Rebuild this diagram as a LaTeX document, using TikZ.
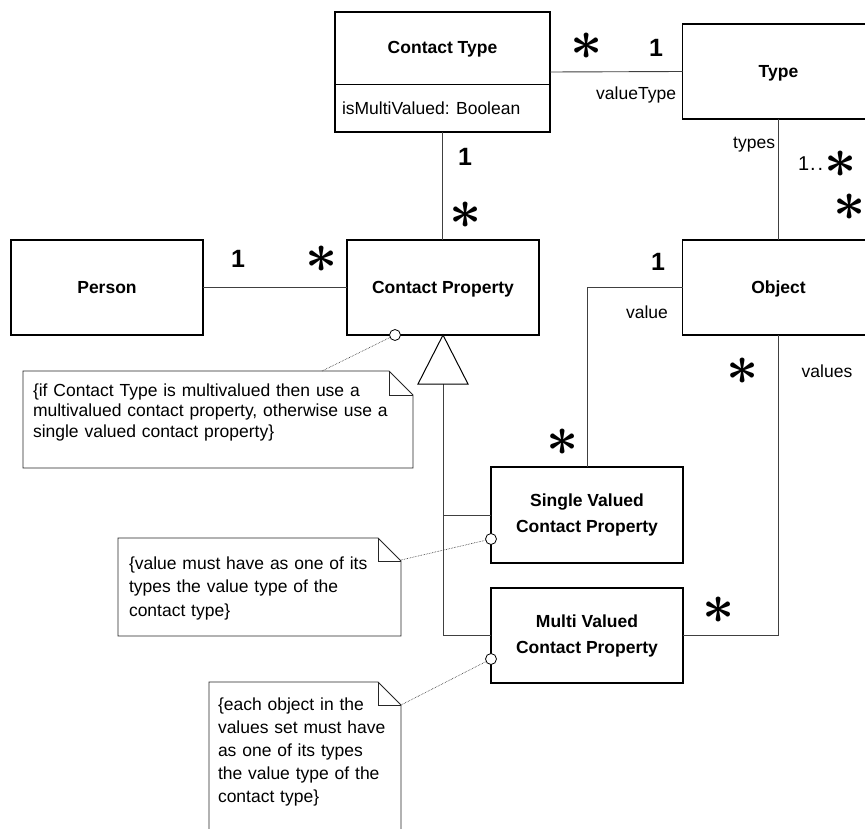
\documentclass[tikz,border=0pt]{standalone}
\usepackage{fontspec}
\setmainfont{Liberation Sans}
\usepackage{graphicx}
% large six-armed multiplicity asterisk, independent of the surrounding size
\newcommand\mult{\scalebox{5.6}{\fontsize{10}{12}\selectfont\boldmath$\ast$}}
\begin{document}
\begin{tikzpicture}[x=1pt,y=-1pt,
  every node/.style={inner sep=0pt,outer sep=0pt},
  classbox/.style={draw=black,line width=1.2pt,minimum width=192pt,minimum height=95pt,
    font=\bfseries\fontsize{17.5}{26}\selectfont,align=center},
  assoc/.style={draw=black!75,line width=0.9pt},
  gen/.style={draw=black,line width=1pt,fill=white},
  lbl/.style={font=\fontsize{17.5}{21}\selectfont},
  one/.style={font=\bfseries\fontsize{25}{25}\selectfont,anchor=base},
  notebox/.style={draw=black!85,line width=0.9pt},
  noteline/.style={draw=black!85,line width=0.6pt,densely dotted},
  anchorring/.style={circle,draw=black,line width=0.8pt,fill=white,minimum size=11pt},
]
\clip (0,0) rectangle (865,829);
\fill[white] (0,0) rectangle (865,829);

% ---------- classes ----------
\node[classbox,minimum width=215pt,minimum height=120pt] (ct) at (442.5,72) {};
\node[font=\bfseries\fontsize{17.5}{21}\selectfont,anchor=base] (ctname) at (442.5,54) {Contact Type};
\coordinate (ctdiv) at (0,84.5);
\draw[line width=1.2pt] (ct.west |- ctdiv) -- (ct.east |- ctdiv);
\node[lbl,anchor=base west] (ctattr) at (342,115) {isMultiValued: Boolean};

\node[classbox,text height=12.7pt,text depth=0pt] (type) at (778.5,71.5) {Type};
\node[classbox,text height=12.7pt,text depth=0pt] (person) at (107,287.5) {Person};
\node[classbox,text height=12.7pt,text depth=0pt] (cp) at (443,287.5) {Contact Property};
\node[classbox,text height=12.7pt,text depth=0pt] (obj) at (778.5,287.5) {Object};
\node[classbox,minimum height=96pt] (sv) at (587,515) {Single Valued\\Contact Property};
\node[classbox] (mv) at (587,635.5) {Multi Valued\\Contact Property};

% ---------- associations ----------
\draw[assoc] (ct.east) -- (type.west);
\draw[assoc] (ct.south) -- (ct.south |- cp.north);
\draw[assoc] (type.south) -- (obj.north);
\draw[assoc] (person.east) -- (cp.west);
\draw[assoc] (obj.west) -| (sv.north);
\draw[assoc] (obj.south) |- (mv.east);

% ---------- generalization ----------
\coordinate (gtip) at (cp.south);
\coordinate (gbase) at ([yshift=-49pt]gtip);
\draw[assoc] (gbase) |- (mv.west);
\draw[assoc] (gbase |- sv.west) -- (sv.west);
\draw[gen] (gtip) -- ([xshift=-25pt]gbase) -- ([xshift=25pt]gbase) -- cycle;

% ---------- multiplicities and role names ----------
\node (m1) at (586.5,46) {\mult};
\node[one] (m2) at (656,57) {1};
\node[lbl,anchor=base east] (rvt) at (676,100) {valueType};
\node[one] (m3) at (465,166) {1};
\node (m4) at (466,215) {\mult};
\node[lbl,anchor=base east] (rtypes) at (775,149) {types};
\node[anchor=base west,font=\fontsize{20}{20}\selectfont] (m5) at (798,171)
  {1\hspace{1pt}.\hspace{2pt}.\hspace{1pt}\raisebox{-7pt}{\mult}};
\node (m6) at (850,207) {\mult};
\node[one] (m7) at (238,268) {1};
\node (m8) at (322,259) {\mult};
\node[one] (m9) at (658,271) {1};
\node[lbl] (rvalue) at (647,312) {value};
\node (m10) at (563,442) {\mult};
\node (m11) at (743,371) {\mult};
\node[lbl] (rvalues) at (827,371) {values};
\node (m12) at (719,610) {\mult};

% ---------- notes ----------
\node[minimum width=390pt,minimum height=97pt,anchor=north west] (n1) at (23,371) {};
\draw[notebox] (n1.north west) -- ([xshift=-24pt]n1.north east) -- ([yshift=-24pt]n1.north east)
  -- (n1.south east) -- (n1.south west) -- cycle;
\draw[notebox] ([xshift=-24pt]n1.north east) |- ([yshift=-24pt]n1.north east);
\node[anchor=base west,text width=380pt,align=left,font=\fontsize{17.5}{20.5}\selectfont] (n1t) at (33,396)
  {\{if Contact Type is multivalued then use a\\multivalued contact property, otherwise use a\\single valued contact property\}};

\node[minimum width=283pt,minimum height=98pt,anchor=north west] (n2) at (118,538) {};
\draw[notebox] (n2.north west) -- ([xshift=-23pt]n2.north east) -- ([yshift=-23pt]n2.north east)
  -- (n2.south east) -- (n2.south west) -- cycle;
\draw[notebox] ([xshift=-23pt]n2.north east) |- ([yshift=-23pt]n2.north east);
\node[anchor=base west,text width=270pt,align=left,font=\fontsize{17.5}{23.5}\selectfont] (n2t) at (129,569)
  {\{value must have as one of its\\types the value type of the\\contact type\}};

\node[minimum width=192pt,minimum height=170pt,anchor=north west] (n3) at (209,682) {};
\draw[notebox] (n3.north west) -- ([xshift=-23pt]n3.north east) -- ([yshift=-23pt]n3.north east)
  -- (n3.south east) -- (n3.south west) -- cycle;
\draw[notebox] ([xshift=-23pt]n3.north east) |- ([yshift=-23pt]n3.north east);
\node[anchor=base west,text width=180pt,align=left,font=\fontsize{17.5}{23}\selectfont] (n3t) at (218,710)
  {\{each object in the\\values set must have\\as one of its types\\the value type of the\\contact type\}};

% ---------- note anchors ----------
\coordinate (n1a) at ([xshift=299pt]n1.north west);
\node[anchorring] (c1) at ([xshift=-48pt]cp.south) {};
\draw[noteline] (n1a) -- (c1);
\node[anchorring] (c2) at ([yshift=-24pt]sv.west) {};
\draw[noteline] ([yshift=-22pt]n2.north east) -- (c2);
\node[anchorring] (c3) at ([yshift=-23.5pt]mv.west) {};
\draw[noteline] ([yshift=-23pt]n3.north east) -- (c3);
\end{tikzpicture}
\end{document}
